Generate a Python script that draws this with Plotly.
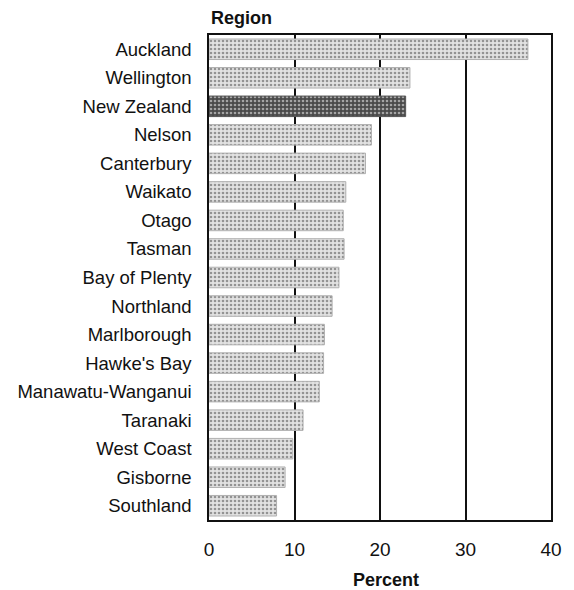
import plotly.graph_objects as go

regions = ["Auckland", "Wellington", "New Zealand", "Nelson", "Canterbury", "Waikato",
           "Otago", "Tasman", "Bay of Plenty", "Northland", "Marlborough", "Hawke's Bay",
           "Manawatu-Wanganui", "Taranaki", "West Coast", "Gisborne", "Southland"]
percent = [37.3, 23.5, 23.0, 19.0, 18.3, 16.0, 15.7, 15.8, 15.2, 14.4, 13.5, 13.4,
           12.9, 11.0, 9.8, 8.9, 7.9]
x_ticks = [0, 10, 20, 30, 40]

bg = ["#4a4a4a" if r == "New Zealand" else "#e2e2e2" for r in regions]
fg = ["#8a8a8a" if r == "New Zealand" else "#a8a8a8" for r in regions]
edge = ["#555555" if r == "New Zealand" else "#b0b0b0" for r in regions]

# page has an 8px body margin; figure sized to fit the 574x590 window
W, H = 566, 582
L, R, T, B = 201, 16, 27, 70

fig = go.Figure()
fig.add_trace(go.Bar(
    x=percent, y=regions, orientation="h",
    marker=dict(
        color=bg,
        pattern=dict(shape=".", fgcolor=fg, bgcolor=bg, size=4, solidity=0.35,
                     fillmode="overlay"),
        line=dict(color=edge, width=1),
    ),
    width=0.72,
))

FONT = "Liberation Sans, Arial, sans-serif"
fig.update_layout(
    width=W, height=H,
    margin=dict(l=L, r=R, t=T, b=B),
    paper_bgcolor="white", plot_bgcolor="white",
    showlegend=False,
    font=dict(family=FONT, size=18, color="#111111"),
    xaxis=dict(
        range=[0, 40], tickvals=x_ticks, ticktext=[str(t) for t in x_ticks],
        showgrid=True, gridcolor="#111111", gridwidth=1.5,
        zeroline=False, showline=True, linecolor="#111111", linewidth=1.5, mirror=True,
        ticks="", ticklabelstandoff=11, tickfont=dict(size=19),
    ),
    yaxis=dict(
        categoryorder="array", categoryarray=regions, autorange="reversed",
        showgrid=False, zeroline=False, showline=True, linecolor="#111111",
        linewidth=1.5, mirror=True, ticks="", ticklabelstandoff=12,
        tickfont=dict(size=18.5), automargin=False,
    ),
)
plot_w = W - L - R
plot_h = H - T - B
fig.add_annotation(text="<b>Region</b>", x=0, y=1 + (T - 10) / plot_h,
                   xref="paper", yref="paper", showarrow=False,
                   xanchor="left", yanchor="middle", font=dict(size=18, family=FONT))
fig.add_annotation(text="<b>Percent</b>", x=(382 - L) / plot_w, y=-(572 - (H - B)) / plot_h,
                   xref="paper", yref="paper", showarrow=False,
                   xanchor="center", yanchor="middle", font=dict(size=18, family=FONT))

fig.write_html("out.html")
